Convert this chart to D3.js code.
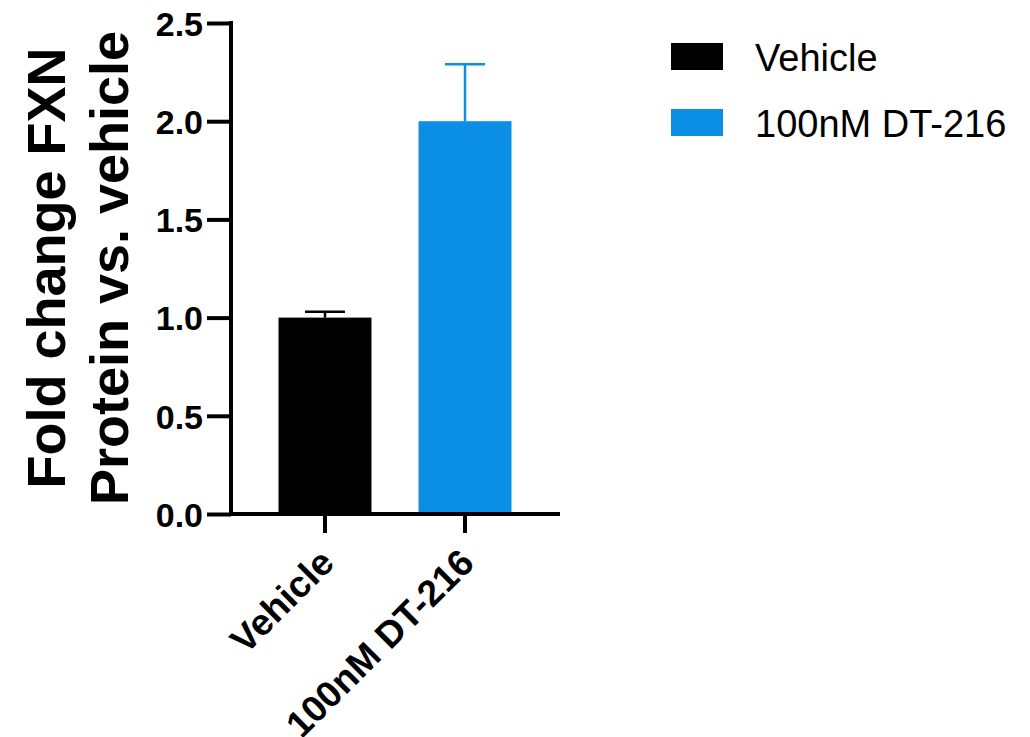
<!DOCTYPE html>
<html>
<head>
<meta charset="utf-8">
<script src="https://cdn.jsdelivr.net/npm/d3@7"></script>
<style>
  body { margin: 0; background: #fff; }
  text { font-family: Arial, "Liberation Sans", sans-serif; }
</style>
</head>
<body>
<div id="chart"></div>
<script>
// data
const groups = ["Vehicle", "100nM DT-216"];
const means = [1.0, 2.0];
const errors = [0.03, 0.29];
const colors = ["#000000", "#0a8fe5"];
const yTicks = [0, 0.5, 1.0, 1.5, 2.0, 2.5];

const width = 1030, height = 737;
const axisX = 231, axisY = 514;

const svg = d3.select("#chart")
    .append("svg")
    .attr("width", width)
    .attr("height", height);

// scales
const x = d3.scaleBand()
    .domain(groups)
    .range([233, 557])
    .paddingInner(0.336)
    .paddingOuter(0.325);

const y = d3.scaleLinear()
    .domain([0, 2.5])
    .range([axisY, 23]);

// bars
svg.selectAll("rect.bar")
    .data(groups)
    .join("rect")
    .attr("class", "bar")
    .attr("x", d => x(d))
    .attr("y", (d, i) => y(means[i]))
    .attr("width", x.bandwidth())
    .attr("height", (d, i) => y(0) - y(means[i]))
    .attr("fill", (d, i) => colors[i]);

// error bars (upper only)
const err = svg.selectAll("g.err")
    .data(groups)
    .join("g")
    .attr("class", "err")
    .attr("stroke", (d, i) => colors[i])
    .attr("stroke-width", 2.5);

err.append("line")
    .attr("x1", d => x(d) + x.bandwidth() / 2)
    .attr("x2", d => x(d) + x.bandwidth() / 2)
    .attr("y1", (d, i) => y(means[i]))
    .attr("y2", (d, i) => y(means[i] + errors[i]));

err.append("line")
    .attr("x1", d => x(d) + x.bandwidth() / 2 - 20)
    .attr("x2", d => x(d) + x.bandwidth() / 2 + 20)
    .attr("y1", (d, i) => y(means[i] + errors[i]))
    .attr("y2", (d, i) => y(means[i] + errors[i]));

// y axis
const yAxis = svg.append("g")
    .attr("transform", `translate(${axisX},0)`)
    .call(d3.axisLeft(y).tickValues(yTicks).tickFormat(d3.format(".1f")).tickSize(24).tickPadding(4).tickSizeOuter(0));
yAxis.select(".domain").attr("stroke-width", 4).attr("d", `M0,${y(2.5) - 2}V${axisY + 2}`);
yAxis.selectAll(".tick line").attr("stroke-width", 4);
yAxis.selectAll("text")
    .attr("font-size", 34)
    .attr("font-weight", "bold")
    .attr("fill", "#000")
    .attr("dy", "0.36em");

// x axis
const xAxis = svg.append("g")
    .attr("transform", `translate(0,${axisY})`)
    .call(d3.axisBottom(x).tickSize(19).tickSizeOuter(0));
xAxis.select(".domain").attr("stroke-width", 4).attr("d", `M${axisX - 2},0H560`);
xAxis.selectAll(".tick line").attr("stroke-width", 4);
xAxis.selectAll("text")
    .attr("font-size", 37)
    .attr("font-weight", "bold")
    .attr("fill", "#000")
    .style("text-anchor", "end")
    .attr("x", 0)
    .attr("y", 0)
    .attr("dy", 0)
    .attr("transform", "translate(11,51) rotate(-45)");

// y axis title
const title = svg.append("text")
    .attr("transform", "translate(0,268) rotate(-90)")
    .attr("text-anchor", "middle")
    .attr("font-size", 54)
    .attr("font-weight", "bold")
    .attr("fill", "#000");
title.append("tspan").attr("x", 0).attr("y", 65).text("Fold change FXN");
title.append("tspan").attr("x", 0).attr("y", 128).text("Protein vs. vehicle");

// legend
const legend = svg.selectAll("g.legend")
    .data(groups)
    .join("g")
    .attr("class", "legend")
    .attr("transform", (d, i) => `translate(671,${43 + i * 66})`);

legend.append("rect")
    .attr("width", 52)
    .attr("height", 27)
    .attr("fill", (d, i) => colors[i]);

legend.append("text")
    .attr("x", 84)
    .attr("y", 27.5)
    .attr("font-size", 38)
    .attr("fill", "#000")
    .text(d => d);
</script>
</body>
</html>
